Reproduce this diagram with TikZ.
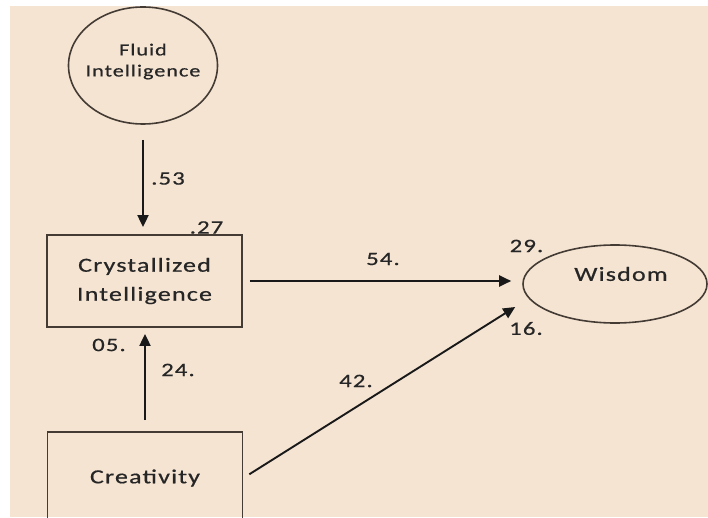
\documentclass[tikz,border=0pt]{standalone}
\usepackage{fontspec}
\setmainfont{Carlito}[FakeStretch=1.3,LetterSpace=6,FakeBold=0.6]
\usepackage{tikz}
\usetikzlibrary{shapes.geometric,arrows.meta}
\definecolor{paper}{RGB}{245,228,210}
\definecolor{ink}{RGB}{68,60,52}

\begin{document}
\begin{tikzpicture}[x=1pt,y=1pt,
    box/.style={draw=ink,line width=1.8pt,minimum width=195pt,minimum height=92pt,
      align=center,font=\fontsize{20}{29}\selectfont,text=black!85},
    oval/.style={ellipse,draw=ink,line width=1.6pt,inner sep=0pt},
    word/.style={align=center,text=black!85},
    coef/.style={font=\fontsize{19}{20}\selectfont,text=black!85},
    path/.style={line width=1.9pt,draw=black!90,-{Triangle[length=12pt,width=11pt]}}]
  \useasboundingbox (0,0) rectangle (708,517);
  \clip (0,0) rectangle (708,517);
  \fill[white] (0,0) rectangle (708,517);
  \fill[paper] (10,0) rectangle (708,511);

  % latent variables
  \node[oval,minimum width=149pt,minimum height=117pt] (F) at (143,451.5) {};
  \node[word,font=\fontsize{17}{21}\selectfont] (Ft) at (143,455.5) {Fluid\\Intelligence};
  \node[oval,minimum width=184pt,minimum height=78pt] (W) at (615,233) {};
  \node[word,font=\fontsize{20}{24}\selectfont] (Wt) at (621,243) {Wisdom};

  % observed variables
  \node[box] (C) at (144.5,236) {Crystallized\\Intelligence};
  \node[box] (R) at (145,39) {Creativity};

  % paths
  \draw[path,shorten <=15pt,shorten >=7pt] (F.south) -- (F.south |- C.north);
  \draw[path,shorten <=7pt,shorten >=11pt] (C.east) -- (C.east -| W.west);
  \draw[path,shorten <=11pt,shorten >=6pt] (R.north) -- (R.north |- C.south);
  \draw[path,shorten <=7pt] (R.east) -- ([shift={(-7,-23)}]W.west);

  % coefficients
  \node[coef] (p53) at (168,338.5) {.53};
  \node[coef] (r27) at (206.5,289.5) {.27};
  \node[coef] (p54) at (383,258) {54.};
  \node[coef] (r29) at (526.5,271) {29.};
  \node[coef] (r16) at (526,188.5) {16.};
  \node[coef] (p24) at (178,147) {24.};
  \node[coef] (r05) at (109,172) {05.};
  \node[coef] (p42) at (356,136) {42.};
\end{tikzpicture}
\end{document}
